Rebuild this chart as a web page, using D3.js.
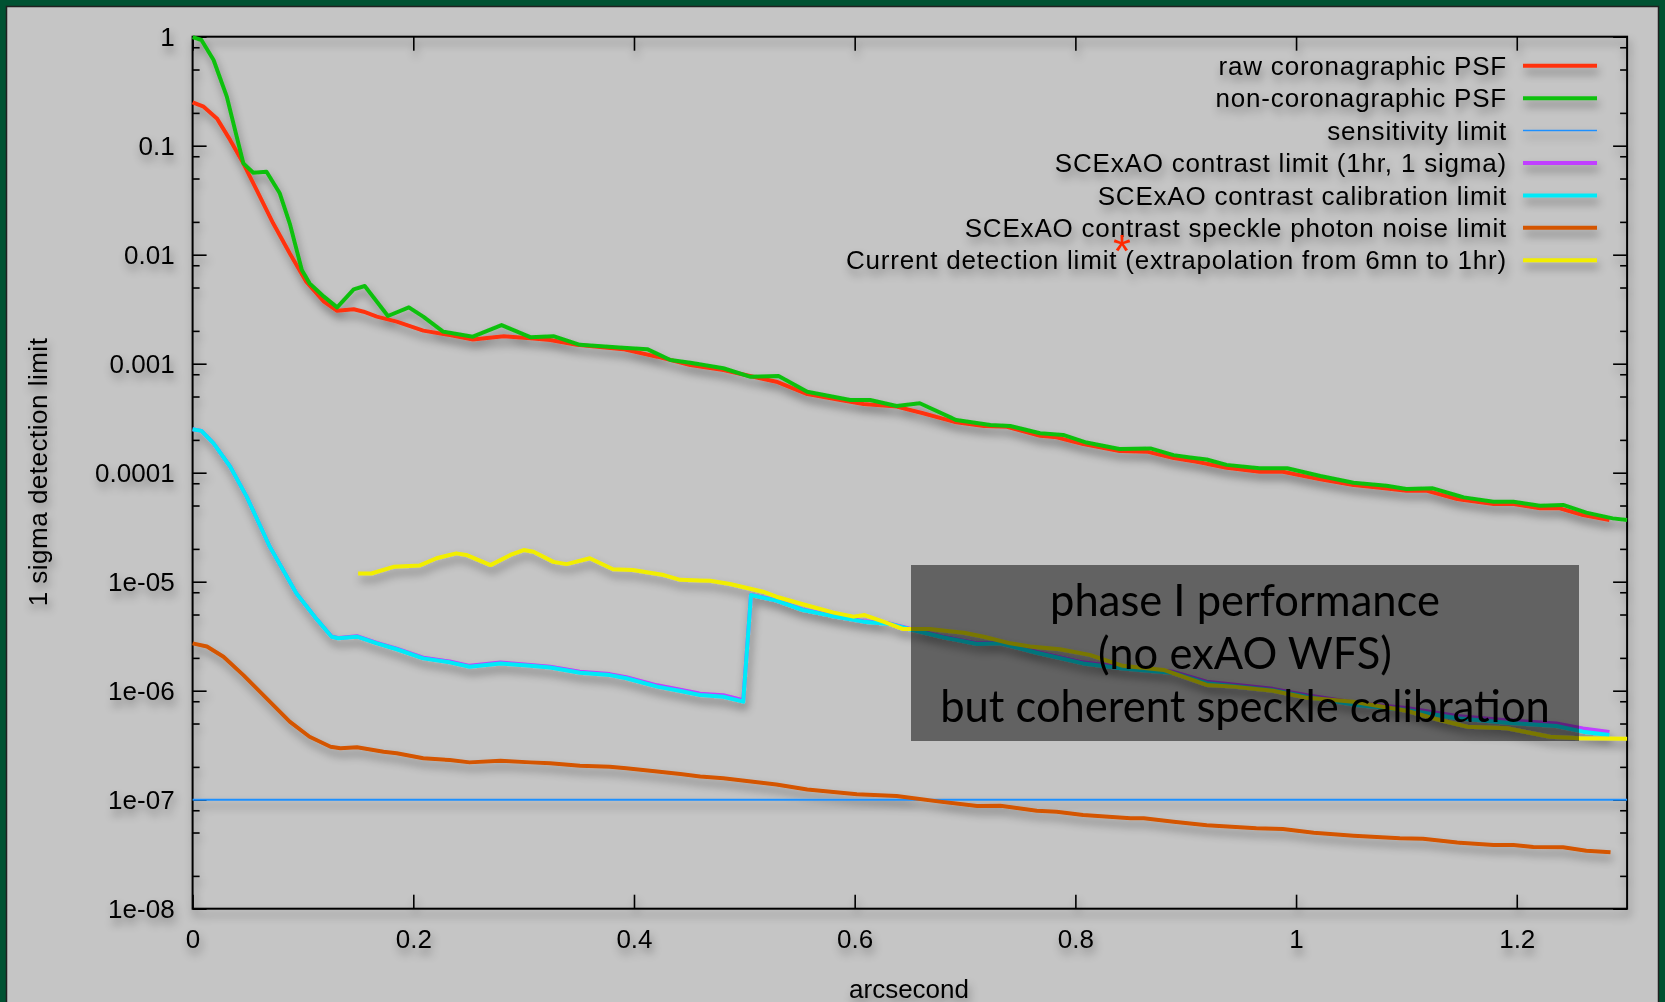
<!DOCTYPE html>
<html>
<head>
<meta charset="utf-8">
<script src="https://cdn.jsdelivr.net/npm/d3@7"></script>
<style>
  html, body { margin: 0; padding: 0; background: #005232; }
  svg { display: block; }
  text { font-family: "Liberation Sans", Arial, Helvetica, sans-serif; fill: #000; }
</style>
</head>
<body>
<svg id="chart" width="1665" height="1002"></svg>
<script>
// ---- Data (arcsecond, 1 sigma detection limit) ----
const rawCoronagraphic = [
  [0, 0.25], [0.010, 0.228], [0.022, 0.178], [0.034, 0.113], [0.046, 0.0689],
  [0.058, 0.0393], [0.073, 0.0194], [0.088, 0.0103], [0.103, 0.00565], [0.119, 0.00371],
  [0.131, 0.00306], [0.146, 0.00316], [0.155, 0.0030], [0.167, 0.0027], [0.185, 0.00243],
  [0.209, 0.00201], [0.233, 0.00183], [0.254, 0.00167], [0.282, 0.00179], [0.306, 0.00171],
  [0.324, 0.00165], [0.348, 0.00149], [0.390, 0.00136], [0.421, 0.00116], [0.451, 0.000973],
  [0.481, 0.000875], [0.505, 0.000771], [0.529, 0.000684], [0.557, 0.000527], [0.587, 0.000465],
  [0.608, 0.000427], [0.638, 0.000404], [0.662, 0.000351], [0.692, 0.00029], [0.717, 0.000268],
  [0.738, 0.000264], [0.768, 0.000218], [0.783, 0.000211], [0.807, 0.000183], [0.840, 0.000158],
  [0.865, 0.000156], [0.889, 0.000136], [0.910, 0.000126], [0.937, 0.000111], [0.967, 0.000102],
  [0.988, 0.000102], [1.022, 8.69e-5], [1.052, 7.71e-5], [1.076, 7.28e-5], [1.100, 6.84e-5],
  [1.118, 6.84e-5], [1.146, 5.74e-5], [1.179, 5.16e-5], [1.197, 5.16e-5], [1.221, 4.71e-5],
  [1.239, 4.71e-5], [1.260, 4.09e-5], [1.284, 3.68e-5]
];

const nonCoronagraphic = [
  [0, 0.99], [0.008, 0.933], [0.019, 0.611], [0.031, 0.282], [0.040, 0.121],
  [0.046, 0.0689], [0.055, 0.0565], [0.067, 0.0577], [0.079, 0.0366], [0.088, 0.0194],
  [0.099, 0.00724], [0.106, 0.00546], [0.119, 0.00412], [0.131, 0.00329], [0.146, 0.00481],
  [0.156, 0.00516], [0.177, 0.00274], [0.196, 0.00329], [0.209, 0.0027], [0.227, 0.00197],
  [0.254, 0.00177], [0.280, 0.00226], [0.306, 0.00175], [0.327, 0.00179], [0.351, 0.00149],
  [0.390, 0.0014], [0.412, 0.00136], [0.433, 0.00108], [0.451, 0.00102], [0.481, 0.000908],
  [0.505, 0.00076], [0.531, 0.000771], [0.557, 0.000553], [0.596, 0.000465], [0.614, 0.000465],
  [0.638, 0.000409], [0.659, 0.000434], [0.692, 0.000304], [0.723, 0.000274], [0.741, 0.000268],
  [0.768, 0.00023], [0.789, 0.000222], [0.810, 0.000189], [0.840, 0.000165], [0.868, 0.000167],
  [0.889, 0.000145], [0.904, 0.000138], [0.919, 0.000132], [0.937, 0.000118], [0.967, 0.00011],
  [0.992, 0.00011], [1.022, 9.33e-5], [1.052, 8.09e-5], [1.082, 7.6e-5], [1.100, 7.08e-5],
  [1.124, 7.19e-5], [1.152, 5.94e-5], [1.179, 5.42e-5], [1.197, 5.42e-5], [1.221, 4.98e-5],
  [1.242, 5.06e-5], [1.263, 4.3e-5], [1.287, 3.81e-5], [1.300, 3.68e-5]
];

const sensitivityLimit = [[0, 1e-7], [1.3, 1e-7]];

const contrastLimit = [
  [0, 2.5e-4], [0.008, 2.42e-4], [0.019, 1.86e-4], [0.034, 1.14e-4], [0.049, 6.03e-5],
  [0.070, 2.09e-5], [0.094, 7.82e-6], [0.113, 4.46e-6], [0.126, 3.14e-6], [0.132, 3.05e-6],
  [0.149, 3.16e-6], [0.167, 2.75e-6], [0.185, 2.43e-6], [0.209, 2.01e-6], [0.233, 1.85e-6],
  [0.251, 1.69e-6], [0.279, 1.81e-6], [0.306, 1.72e-6], [0.324, 1.66e-6], [0.351, 1.49e-6],
  [0.378, 1.42e-6], [0.393, 1.33e-6], [0.421, 1.12e-6], [0.442, 1.02e-6], [0.460, 9.4e-7],
  [0.481, 9.1e-7], [0.499, 8.2e-7], [0.506, 7.58e-6], [0.529, 6.74e-6], [0.553, 5.54e-6],
  [0.578, 4.92e-6], [0.608, 4.34e-6], [0.632, 4.13e-6], [0.650, 3.7e-6], [0.680, 3.13e-6],
  [0.711, 2.72e-6], [0.732, 2.76e-6], [0.765, 2.27e-6], [0.807, 1.82e-6], [0.843, 1.64e-6],
  [0.889, 1.49e-6], [0.919, 1.21e-6], [0.979, 1.04e-6], [1.010, 9.1e-7], [1.055, 7.7e-7],
  [1.100, 6.95e-7], [1.146, 5.85e-7], [1.191, 5.35e-7], [1.236, 5.0e-7], [1.260, 4.5e-7],
  [1.284, 4.18e-7]
];

const calibrationLimit = [
  [0, 2.5e-4], [0.008, 2.42e-4], [0.019, 1.86e-4], [0.034, 1.14e-4], [0.049, 6.03e-5],
  [0.070, 2.09e-5], [0.094, 7.82e-6], [0.113, 4.46e-6], [0.126, 3.13e-6], [0.132, 3.03e-6],
  [0.149, 3.13e-6], [0.167, 2.72e-6], [0.185, 2.4e-6], [0.209, 1.98e-6], [0.233, 1.82e-6],
  [0.251, 1.66e-6], [0.279, 1.78e-6], [0.306, 1.69e-6], [0.324, 1.63e-6], [0.351, 1.46e-6],
  [0.378, 1.39e-6], [0.393, 1.3e-6], [0.421, 1.09e-6], [0.442, 9.93e-7], [0.460, 9.12e-7],
  [0.481, 8.81e-7], [0.499, 7.93e-7], [0.506, 7.55e-6], [0.529, 6.7e-6], [0.553, 5.5e-6],
  [0.578, 4.88e-6], [0.608, 4.3e-6], [0.632, 4.09e-6], [0.650, 3.66e-6], [0.680, 3.09e-6],
  [0.711, 2.68e-6], [0.732, 2.72e-6], [0.765, 2.23e-6], [0.807, 1.78e-6], [0.843, 1.6e-6],
  [0.889, 1.45e-6], [0.919, 1.17e-6], [0.979, 1.01e-6], [1.010, 8.81e-7], [1.055, 7.4e-7],
  [1.100, 6.65e-7], [1.146, 5.58e-7], [1.191, 5.08e-7], [1.236, 4.74e-7], [1.260, 4.21e-7],
  [1.284, 3.92e-7]
];

const specklePhotonNoise = [
  [0, 2.72e-6], [0.013, 2.54e-6], [0.028, 2.05e-6], [0.046, 1.39e-6], [0.067, 8.51e-7],
  [0.088, 5.2e-7], [0.106, 3.78e-7], [0.125, 3.06e-7], [0.134, 2.96e-7], [0.149, 3.03e-7],
  [0.173, 2.75e-7], [0.185, 2.67e-7], [0.209, 2.4e-7], [0.233, 2.31e-7], [0.251, 2.2e-7],
  [0.279, 2.28e-7], [0.306, 2.2e-7], [0.324, 2.16e-7], [0.351, 2.05e-7], [0.378, 2.01e-7],
  [0.393, 1.94e-7], [0.421, 1.81e-7], [0.442, 1.72e-7], [0.460, 1.63e-7], [0.481, 1.57e-7],
  [0.529, 1.38e-7], [0.557, 1.24e-7], [0.602, 1.12e-7], [0.638, 1.08e-7], [0.677, 9.6e-8],
  [0.711, 8.75e-8], [0.732, 8.81e-8], [0.765, 7.93e-8], [0.783, 7.76e-8], [0.807, 7.24e-8],
  [0.850, 6.75e-8], [0.862, 6.75e-8], [0.889, 6.28e-8], [0.919, 5.82e-8], [0.964, 5.47e-8],
  [0.988, 5.38e-8], [1.016, 4.98e-8], [1.052, 4.68e-8], [1.094, 4.43e-8], [1.115, 4.39e-8],
  [1.146, 4.04e-8], [1.179, 3.84e-8], [1.197, 3.84e-8], [1.215, 3.68e-8], [1.242, 3.66e-8],
  [1.263, 3.4e-8], [1.285, 3.29e-8]
];

const currentDetection = [
  [0.150, 1.19e-5], [0.162, 1.19e-5], [0.182, 1.37e-5], [0.206, 1.41e-5], [0.221, 1.64e-5],
  [0.239, 1.82e-5], [0.248, 1.76e-5], [0.270, 1.42e-5], [0.288, 1.76e-5], [0.300, 1.95e-5],
  [0.309, 1.88e-5], [0.327, 1.52e-5], [0.339, 1.45e-5], [0.360, 1.64e-5], [0.381, 1.3e-5],
  [0.399, 1.28e-5], [0.427, 1.15e-5], [0.442, 1.04e-5], [0.469, 1.02e-5], [0.487, 9.53e-6],
  [0.517, 8.09e-6], [0.529, 7.28e-6], [0.553, 6.21e-6], [0.581, 5.2e-6], [0.599, 4.78e-6],
  [0.609, 4.94e-6], [0.626, 4.3e-6], [0.644, 3.68e-6], [0.668, 3.68e-6], [0.699, 3.4e-6],
  [0.717, 3.13e-6], [0.741, 2.72e-6], [0.759, 2.54e-6], [0.786, 2.4e-6], [0.813, 2.13e-6],
  [0.843, 1.69e-6], [0.880, 1.55e-6], [0.919, 1.13e-6], [0.943, 1.09e-6], [0.979, 1.0e-6],
  [1.010, 8.6e-7], [1.052, 7.93e-7], [1.100, 6.55e-7], [1.130, 5.38e-7], [1.155, 4.68e-7],
  [1.191, 4.52e-7], [1.230, 3.78e-7], [1.257, 3.66e-7], [1.300, 3.63e-7]
];

const seriesNames = [
  "raw coronagraphic PSF",
  "non-coronagraphic PSF",
  "sensitivity limit",
  "SCExAO contrast limit (1hr, 1 sigma)",
  "SCExAO contrast calibration limit",
  "SCExAO contrast speckle photon noise limit",
  "Current detection limit (extrapolation from 6mn to 1hr)"
];
const seriesData = [rawCoronagraphic, nonCoronagraphic, sensitivityLimit, contrastLimit,
  calibrationLimit, specklePhotonNoise, currentDetection];
const seriesColors = ["#ff3210", "#10c010", "#1e90ff", "#c040ff", "#00eaf8", "#d45500", "#f2ee00"];
const seriesWidths = [4, 4, 2, 4, 4, 4, 4];

const xTickValues = [0, 0.2, 0.4, 0.6, 0.8, 1, 1.2];
const xTickLabels = ["0", "0.2", "0.4", "0.6", "0.8", "1", "1.2"];
const yTickValues = [1, 0.1, 0.01, 0.001, 1e-4, 1e-5, 1e-6, 1e-7, 1e-8];
const yTickLabels = ["1", "0.1", "0.01", "0.001", "0.0001", "1e-05", "1e-06", "1e-07", "1e-08"];
const yMinorSteps = [2, 5, 8];

const boxLines = ["phase I performance", "(no exAO WFS)", "but coherent speckle calibration"];

// ---- Layout ----
const W = 1665, H = 1002;
const plot = {left: 192.6, right: 1627.1, top: 36.7, bottom: 908.7};

const svg = d3.select('#chart');
const defs = svg.append('defs');

const shadow = defs.append('filter')
    .attr('id', 'shadow')
    .attr('filterUnits', 'userSpaceOnUse')
    .attr('x', 0).attr('y', 0).attr('width', W).attr('height', H);
shadow.append('feDropShadow')
    .attr('dx', 2).attr('dy', 6)
    .attr('stdDeviation', 4)
    .attr('flood-color', '#000')
    .attr('flood-opacity', 0.38);

// Slide background
svg.append('rect')
    .attr('x', 0).attr('y', 0).attr('width', W).attr('height', H)
    .attr('fill', '#005232');
svg.append('rect')
    .attr('x', 6.5).attr('y', 6.5).attr('width', 1652).attr('height', 1010)
    .attr('fill', '#c5c5c5')
    .attr('stroke', '#202020')
    .attr('stroke-width', 1.5);

// Scales
const x = d3.scaleLinear().domain([0, 1.3]).range([plot.left, plot.right]);
const y = d3.scaleLog().domain([1e-8, 1]).range([plot.bottom, plot.top]);

const yMinorValues = [];
d3.range(-8, 0).forEach(k => yMinorSteps.forEach(m => yMinorValues.push(m * Math.pow(10, k))));

const chart = svg.append('g').attr('filter', 'url(#shadow)');

// Axes
const axes = chart.append('g').attr('class', 'axes');

axes.append('g')
    .attr('transform', `translate(${plot.left},0)`)
    .call(d3.axisLeft(y).tickValues(yTickValues).tickSize(-14).tickPadding(18)
        .tickFormat((d, i) => yTickLabels[i]));
axes.append('g')
    .attr('transform', `translate(${plot.left},0)`)
    .call(d3.axisLeft(y).tickValues(yMinorValues).tickSize(-7).tickFormat(''));
axes.append('g')
    .attr('transform', `translate(${plot.right},0)`)
    .call(d3.axisRight(y).tickValues(yTickValues).tickSize(-14).tickFormat(''));
axes.append('g')
    .attr('transform', `translate(${plot.right},0)`)
    .call(d3.axisRight(y).tickValues(yMinorValues).tickSize(-7).tickFormat(''));
const bottomAxis = axes.append('g')
    .attr('transform', `translate(0,${plot.bottom})`)
    .call(d3.axisBottom(x).tickValues(xTickValues).tickSize(-14).tickPadding(21)
        .tickFormat((d, i) => xTickLabels[i]));
axes.append('g')
    .attr('transform', `translate(0,${plot.top})`)
    .call(d3.axisTop(x).tickValues(xTickValues).tickSize(-14).tickFormat(''));

axes.selectAll('.domain').remove();
axes.selectAll('.tick line').attr('stroke', '#000').attr('stroke-width', 1.6);
axes.selectAll('.tick text')
    .attr('font-size', 26)
    .attr('font-family', '"Liberation Sans", Arial, sans-serif')
    .attr('fill', '#000');
bottomAxis.selectAll('.tick text').attr('dy', '0.71em');

axes.append('rect')
    .attr('x', plot.left).attr('y', plot.top)
    .attr('width', plot.right - plot.left).attr('height', plot.bottom - plot.top)
    .attr('fill', 'none').attr('stroke', '#000').attr('stroke-width', 2);

// Axis titles
chart.append('text')
    .attr('transform', 'translate(47,472) rotate(-90)')
    .attr('text-anchor', 'middle')
    .attr('font-size', 26)
    .attr('letter-spacing', 0.5)
    .text('1 sigma detection limit');
chart.append('text')
    .attr('x', 909).attr('y', 998)
    .attr('text-anchor', 'middle')
    .attr('font-size', 26)
    .text('arcsecond');

// Curves
const line = d3.line()
    .x(d => x(d[0]))
    .y(d => y(d[1]));

chart.append('g').attr('class', 'curves')
    .selectAll('path')
    .data(seriesData)
    .enter()
    .append('path')
    .attr('d', line)
    .attr('fill', 'none')
    .attr('stroke', (d, i) => seriesColors[i])
    .attr('stroke-width', (d, i) => seriesWidths[i])
    .attr('stroke-linejoin', 'round');

// Legend
const legendRight = 1507, legendTop = 65.8, legendStep = 32.4;
const legend = chart.append('g').attr('class', 'legend')
    .selectAll('g')
    .data(seriesNames)
    .enter()
    .append('g')
    .attr('transform', (d, i) => `translate(0,${legendTop + i * legendStep})`);
legend.append('text')
    .attr('x', legendRight)
    .attr('dy', '0.35em')
    .attr('text-anchor', 'end')
    .attr('font-size', 26)
    .attr('letter-spacing', 0.8)
    .text(d => d);
legend.append('line')
    .attr('x1', 1523).attr('x2', 1597)
    .attr('stroke', (d, i) => seriesColors[i])
    .attr('stroke-width', (d, i) => seriesWidths[i] === 2 ? 1.5 : 4);

// Red asterisk on the last legend entry
svg.append('text')
    .attr('x', 1122).attr('y', 267)
    .attr('text-anchor', 'middle')
    .attr('font-size', 46)
    .style('fill', '#ff2a00')
    .text('*');

// Annotation box
svg.append('rect')
    .attr('x', 911).attr('y', 565)
    .attr('width', 668).attr('height', 176)
    .attr('fill', 'rgba(0,0,0,0.5)');

svg.append('g')
    .selectAll('text')
    .data(boxLines)
    .enter()
    .append('text')
    .attr('x', 1245)
    .attr('y', (d, i) => 616 + i * 53)
    .attr('text-anchor', 'middle')
    .attr('font-size', 43.5)
    .style('font-family', 'Lato, "Open Sans", sans-serif')
    .style('fill', '#000')
    .text(d => d);
</script>
</body>
</html>
